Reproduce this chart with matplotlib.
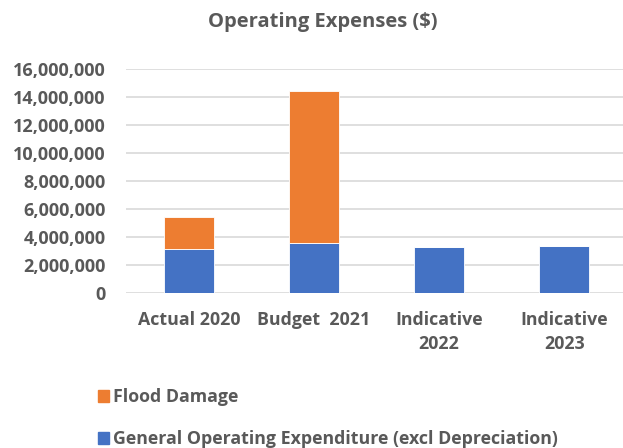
import matplotlib
matplotlib.use("Agg")
import matplotlib.pyplot as plt
from matplotlib.patches import Patch
from matplotlib.ticker import FuncFormatter

categories = ["Actual 2020", "Budget  2021", "Indicative\n2022", "Indicative\n2023"]
general_opex = [3130000, 3580000, 3280000, 3320000]
flood_damage = [2300000, 10900000, 20000, 40000]

BLUE = "#4472C4"
ORANGE = "#ED7D31"
GREY = "#595959"

plt.rcParams["font.family"] = ["Open Sans", "DejaVu Sans"]
plt.rcParams["font.weight"] = "bold"

fig = plt.figure(figsize=(6.23, 4.48), dpi=100)
ax = fig.add_axes([0.203, 0.347, 0.797, 0.498])

x = range(len(categories))
ax.bar(x, general_opex, width=0.4, color=BLUE, edgecolor="white", linewidth=0.6, zorder=3)
ax.bar(x, flood_damage, width=0.4, bottom=general_opex, color=ORANGE,
       edgecolor="white", linewidth=0.6, zorder=3)

ax.set_xlim(-0.5, 3.47)
ax.set_ylim(0, 16000000)
ax.set_yticks(range(0, 16000001, 2000000))
ax.yaxis.set_major_formatter(FuncFormatter(lambda v, p: f"{int(v):,}"))
ax.set_xticks(list(x))
ax.set_xticklabels(categories)
ax.grid(axis="y", color="#d9d9d9", linewidth=1.2, zorder=0)
for s in ax.spines.values():
    s.set_visible(False)
ax.tick_params(axis="both", length=0, labelcolor=GREY)
ax.tick_params(axis="x", pad=13, labelsize=12.8)
ax.tick_params(axis="y", pad=15, labelsize=13)
for lab in ax.get_xticklabels() + ax.get_yticklabels():
    lab.set_fontweight("bold")
    lab.set_linespacing(1.45)

fig.text(323 / 623, 1 - 22 / 448, "Operating Expenses ($)", ha="center", va="center",
         fontsize=14.5, fontweight="bold", color=GREY)

handles = [Patch(color=ORANGE), Patch(color=BLUE)]
labels = ["Flood Damage", "General Operating Expenditure (excl Depreciation)"]
fig.legend(handles, labels, loc="upper left", bbox_to_anchor=(82 / 623, 1 - 372 / 448),
           frameon=False, handlelength=0.62, handleheight=0.62, handletextpad=0.25,
           labelspacing=1.35, prop={"size": 12.8, "weight": "bold"}, labelcolor=GREY)

fig.savefig("out.png", dpi=100)
